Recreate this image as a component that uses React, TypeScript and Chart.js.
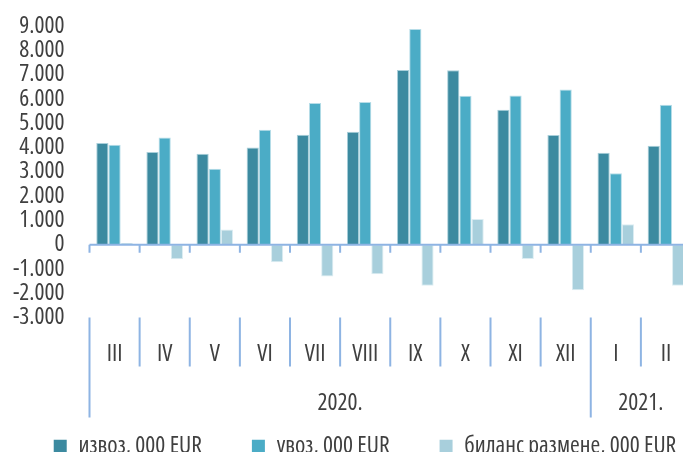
import React, { useEffect, useRef } from 'react';
import { Chart, registerables } from 'chart.js';

Chart.register(...registerables);

const months = ['III', 'IV', 'V', 'VI', 'VII', 'VIII', 'IX', 'X', 'XI', 'XII', 'I', 'II'];
const years = ['2020.', '2021.'];
const yearSpans = [10, 2];
const seriesNames = ['извоз, 000 EUR', 'увоз, 000 EUR', 'биланс размене, 000 EUR'];
const exportValues = [4180, 3810, 3740, 4000, 4520, 4650, 7190, 7180, 5550, 4510, 3780, 4070];
const importValues = [4110, 4410, 3120, 4730, 5830, 5870, 8880, 6130, 6140, 6390, 2940, 5760];
const balanceValues = [70, -600, 620, -730, -1310, -1220, -1690, 1050, -590, -1880, 840, -1690];
const yMin = -3000;
const yMax = 9000;
const yStep = 1000;

const FAMILY = "'Open Sans', 'Roboto', sans-serif";
const FSIZE = 23.5;
const TEXT = '#404040';
const AXIS = '#8EB4E3';
const font = (size = FSIZE) => ({ family: FAMILY, size, weight: 'condensed' as any, lineHeight: 1.2 });

const fmt = (v: number) => {
  const s = Math.abs(v).toString().replace(/\B(?=(\d{3})+(?!\d))/g, '.');
  return (v < 0 ? '-' : '') + s;
};

const multiLevelAxis = {
  id: 'multiLevelAxis',
  afterDatasetsDraw(chart: any) {
    const { ctx, chartArea, scales } = chart;
    const xs = scales.x;
    const ys = scales.y;
    const n = months.length;
    const catW = (chartArea.right - chartArea.left) / n;
    const boundary = (i: number) => xs.getPixelForValue(i) - catW / 2;
    const y0 = ys.getPixelForValue(0);
    ctx.save();
    ctx.strokeStyle = AXIS;
    ctx.lineWidth = 2;
    ctx.beginPath();
    ctx.moveTo(chartArea.left, y0);
    ctx.lineTo(chartArea.right, y0);
    for (let i = 0; i <= n; i++) {
      const bx = boundary(i);
      ctx.moveTo(bx, y0);
      ctx.lineTo(bx, y0 + 8);
    }
    ctx.stroke();

    const top = chartArea.bottom;
    const monthBottom = top + 49;
    const yearBottom = top + 100;
    const yearStarts: number[] = [];
    let acc = 0;
    yearSpans.forEach((s) => { yearStarts.push(acc); acc += s; });
    ctx.beginPath();
    for (let i = 0; i <= n; i++) {
      const bx = boundary(i);
      const isYear = yearStarts.includes(i) || i === n;
      ctx.moveTo(bx, top);
      ctx.lineTo(bx, isYear ? yearBottom : monthBottom);
    }
    ctx.stroke();

    ctx.fillStyle = TEXT;
    ctx.font = `condensed ${FSIZE}px ${FAMILY}`;
    ctx.textAlign = 'center';
    ctx.textBaseline = 'middle';
    years.forEach((label, k) => {
      const a = boundary(yearStarts[k]);
      const b = boundary(yearStarts[k] + yearSpans[k]);
      ctx.fillText(label, (a + b) / 2, top + 86);
    });
    ctx.restore();
  },
};

export default function App() {
  const ref = useRef<HTMLCanvasElement>(null);
  useEffect(() => {
    if (!ref.current) return;
    const chart = new Chart(ref.current, {
      type: 'bar',
      data: {
        labels: months,
        datasets: [
          { label: seriesNames[0], data: exportValues, backgroundColor: '#3C8AA0', borderColor: '#A9CFDA', borderWidth: 1 },
          { label: seriesNames[1], data: importValues, backgroundColor: '#4BACC6', borderColor: '#B7DDE8', borderWidth: 1 },
          { label: seriesNames[2], data: balanceValues, backgroundColor: '#A8CFDC', borderColor: '#DCEDF2', borderWidth: 1 },
        ],
      },
      options: {
        responsive: false,
        animation: false,
        datasets: { bar: { categoryPercentage: 0.73, barPercentage: 1 } },
        layout: { padding: { top: 26, left: 0, right: 0, bottom: 0 } },
        plugins: {
          tooltip: { enabled: false },
          legend: {
            position: 'bottom',
            labels: {
              boxWidth: 13,
              boxHeight: 13,
              padding: 50,
              color: TEXT,
              font: font(),
              generateLabels: (c: any) =>
                Chart.defaults.plugins.legend.labels.generateLabels(c).map((l: any) => ({ ...l, lineWidth: 0 })),
            },
          },
        },
        scales: {
          x: {
            grid: { display: false, drawTicks: false },
            border: { display: false },
            ticks: { color: TEXT, font: font(), padding: 23, maxRotation: 0, autoSkip: false },
            afterFit: (s: any) => { s.height = 67; },
          },
          y: {
            min: yMin,
            max: yMax,
            grid: { display: true, drawOnChartArea: false, drawTicks: true, tickLength: 25, color: 'rgba(0,0,0,0)' },
            border: { display: false },
            ticks: { stepSize: yStep, autoSkip: false, color: TEXT, font: font(), padding: 0, callback: (v: any) => fmt(Number(v)) },
            afterFit: (s: any) => { s.width = 89.5; },
          },
          y2: {
            position: 'right',
            grid: { display: false, drawTicks: false },
            border: { display: false },
            ticks: { display: false },
            afterFit: (s: any) => { s.width = 39; },
          },
        },
      },
      plugins: [multiLevelAxis],
    });
    return () => chart.destroy();
  }, []);
  return (
    <div style={{ position: 'fixed', left: 0, top: 0, width: 683, height: 452, overflow: 'hidden', background: '#fff' }}>
      <canvas ref={ref} width={730} height={468} style={{ display: 'block' }} />
    </div>
  );
}
